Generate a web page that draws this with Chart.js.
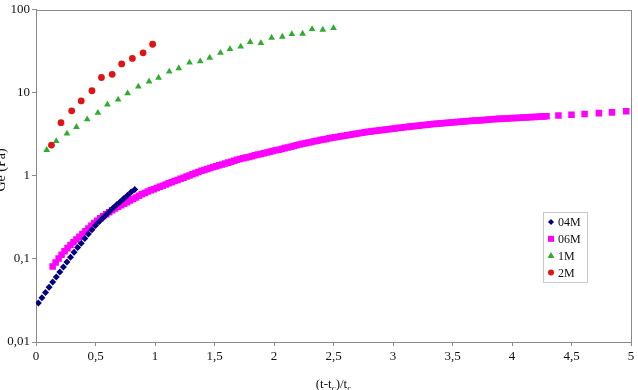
<!DOCTYPE html>
<html>
<head>
<meta charset="utf-8">
<script src="https://cdn.jsdelivr.net/npm/chart.js@4.4.1/dist/chart.umd.min.js"></script>
<style>
  html, body { margin: 0; padding: 0; background: #fff; }
  #wrap { width: 638px; height: 390px; }
</style>
</head>
<body>
<div id="wrap"><canvas id="chart" width="638" height="390"></canvas></div>
<script>
// --- DATA ---
const seriesNames = ["04M", "06M", "1M", "2M"];

const x04M = [0.02, 0.05, 0.08, 0.11, 0.14, 0.17, 0.20, 0.23, 0.26, 0.29, 0.32, 0.35, 0.38, 0.41,
              0.44, 0.47, 0.50, 0.53, 0.56, 0.59, 0.62, 0.65, 0.68, 0.71, 0.74, 0.77, 0.80, 0.83];
const y04M = [0.0295, 0.0341, 0.0394, 0.0456, 0.0527, 0.0608, 0.0698, 0.0800, 0.0916, 0.105, 0.120, 0.137, 0.155, 0.176,
              0.200, 0.224, 0.252, 0.280, 0.309, 0.340, 0.375, 0.413, 0.451, 0.492, 0.537, 0.586, 0.638, 0.687];

const x06M = [0.14, 0.165, 0.19, 0.215, 0.24, 0.265, 0.29, 0.315, 0.34, 0.365, 0.39, 0.415, 0.44, 0.465, 0.49, 0.515,
              0.54, 0.565, 0.59, 0.615, 0.64, 0.665, 0.69, 0.715, 0.74, 0.765, 0.79, 0.815, 0.84, 0.865, 0.89, 0.915,
              0.94, 0.965, 0.99, 1.015, 1.04, 1.065, 1.09, 1.115, 1.14, 1.165, 1.19, 1.215, 1.24, 1.265, 1.29, 1.315,
              1.34, 1.365, 1.39, 1.415, 1.44, 1.465, 1.49, 1.515, 1.54, 1.565, 1.59, 1.615, 1.64, 1.665, 1.69, 1.715,
              1.74, 1.765, 1.79, 1.815, 1.84, 1.865, 1.89, 1.915, 1.94, 1.965, 1.99, 2.015, 2.04, 2.065, 2.09, 2.115,
              2.14, 2.165, 2.19, 2.215, 2.24, 2.265, 2.29, 2.315, 2.34, 2.365, 2.39, 2.415, 2.44, 2.465, 2.49, 2.515,
              2.54, 2.565, 2.59, 2.615, 2.64, 2.665, 2.69, 2.715, 2.74, 2.765, 2.79, 2.815, 2.84, 2.865, 2.89, 2.915,
              2.94, 2.965, 2.99, 3.015, 3.04, 3.065, 3.09, 3.115, 3.14, 3.165, 3.19, 3.215, 3.24, 3.265, 3.29, 3.315,
              3.34, 3.365, 3.39, 3.415, 3.44, 3.465, 3.49, 3.515, 3.54, 3.565, 3.59, 3.615, 3.64, 3.665, 3.69, 3.715,
              3.74, 3.765, 3.79, 3.815, 3.84, 3.865, 3.89, 3.915, 3.94, 3.965, 3.99, 4.015, 4.04, 4.065, 4.09, 4.115,
              4.14, 4.165, 4.19, 4.215, 4.24, 4.265, 4.29,
              4.39, 4.50, 4.61, 4.73, 4.84, 4.96];
const y06M = [0.0813, 0.0905, 0.101, 0.112, 0.124, 0.135, 0.147, 0.159, 0.171, 0.185, 0.200, 0.216, 0.233, 0.251, 0.270, 0.289,
              0.308, 0.326, 0.345, 0.366, 0.387, 0.406, 0.425, 0.443, 0.462, 0.483, 0.505, 0.527, 0.550, 0.575, 0.600, 0.624,
              0.649, 0.670, 0.692, 0.715, 0.738, 0.762, 0.787, 0.813, 0.839, 0.867, 0.895, 0.924, 0.953, 0.982, 1.01, 1.045,
              1.08, 1.115, 1.15, 1.18, 1.21, 1.245, 1.28, 1.31, 1.34, 1.375, 1.41, 1.445, 1.48, 1.52, 1.56, 1.595,
              1.63, 1.66, 1.69, 1.73, 1.77, 1.805, 1.84, 1.875, 1.91, 1.955, 2.00, 2.035, 2.07, 2.115, 2.16, 2.205,
              2.25, 2.295, 2.34, 2.39, 2.44, 2.48, 2.52, 2.565, 2.61, 2.655, 2.70, 2.745, 2.79, 2.835, 2.88, 2.92,
              2.96, 3.005, 3.05, 3.09, 3.13, 3.17, 3.21, 3.255, 3.30, 3.345, 3.39, 3.43, 3.47, 3.505, 3.54, 3.575,
              3.61, 3.65, 3.69, 3.73, 3.77, 3.81, 3.85, 3.885, 3.92, 3.955, 3.99, 4.025, 4.06, 4.10, 4.14, 4.18,
              4.22, 4.25, 4.28, 4.31, 4.34, 4.37, 4.40, 4.43, 4.46, 4.49, 4.52, 4.545, 4.57, 4.60, 4.63, 4.66,
              4.69, 4.72, 4.75, 4.78, 4.81, 4.835, 4.86, 4.88, 4.90, 4.92, 4.94, 4.965, 4.99, 5.015, 5.04, 5.06,
              5.08, 5.105, 5.13, 5.155, 5.18, 5.20, 5.22,
              5.35, 5.46, 5.56, 5.70, 5.82, 6.00];

const x1M = [0.09, 0.17, 0.26, 0.34, 0.43, 0.52, 0.60, 0.69, 0.77, 0.86, 0.95, 1.03, 1.12, 1.20, 1.29,
             1.38, 1.46, 1.55, 1.63, 1.72, 1.80, 1.89, 1.98, 2.07, 2.15, 2.24, 2.32, 2.41, 2.50];
const y1M = [2.05, 2.62, 3.23, 3.88, 4.80, 5.75, 7.24, 8.30, 9.86, 11.9, 13.7, 15.2, 18.0, 19.8, 23.1,
             23.9, 26.5, 30.3, 33.6, 36.0, 41.0, 39.9, 46.1, 47.4, 51.0, 51.5, 58.6, 57.5, 60.3];

const x2M = [0.13, 0.21, 0.30, 0.38, 0.47, 0.55, 0.64, 0.72, 0.81, 0.90, 0.98];
const y2M = [2.35, 4.37, 6.07, 7.99, 10.6, 15.3, 16.7, 22.3, 26.0, 30.3, 38.5];

const xTickValues = [0, 0.5, 1, 1.5, 2, 2.5, 3, 3.5, 4, 4.5, 5];
const xTickLabels = ["0", "0,5", "1", "1,5", "2", "2,5", "3", "3,5", "4", "4,5", "5"];
const yTickValues = [0.01, 0.1, 1, 10, 100];
const yTickLabels = ["0,01", "0,1", "1", "10", "100"];

// --- STYLE ---
const serif = "'Liberation Serif', 'Times New Roman', serif";
const colors = ["#000080", "#ff00ff", "#2fad2f", "#e01414"];
const styles = ["rectRot", "rect", "triangle", "circle"];
const radii = [3.5, 4.6, 3.9, 3.4];
const axisGrey = "#8a8a8a";

function toPoints(xs, ys) {
    return xs.map((x, i) => ({ x: x, y: ys[i] }));
}

const seriesData = [toPoints(x04M, y04M), toPoints(x06M, y06M), toPoints(x1M, y1M), toPoints(x2M, y2M)];

// frame round the plot + axis titles
const framePlugin = {
    id: 'frame',
    beforeDatasetsDraw(chart) {
        const { ctx, chartArea: a } = chart;
        ctx.save();
        ctx.strokeStyle = axisGrey;
        ctx.lineWidth = 1;
        ctx.strokeRect(Math.round(a.left) + 0.5, Math.round(a.top) + 0.5,
                       Math.round(a.right - a.left), Math.round(a.bottom - a.top));
        ctx.restore();
    },
    afterDraw(chart) {
        const { ctx, chartArea: a } = chart;
        ctx.save();
        ctx.fillStyle = "#111";
        // y title (cut off at the left edge like the original)
        ctx.font = "14px " + serif;
        ctx.translate(5, 170);
        ctx.rotate(-Math.PI / 2);
        ctx.textAlign = "center";
        ctx.textBaseline = "alphabetic";
        ctx.fillText("Ge (Pa)", 0, 0);
        ctx.restore();

        // x title with subscripts: (t-tc)/tc
        ctx.save();
        ctx.fillStyle = "#111";
        const parts = [["(t-t", false], ["c", true], [")/t", false], ["c", true]];
        const big = "13px " + serif, small = "9px " + serif;
        let w = 0;
        parts.forEach(p => { ctx.font = p[1] ? small : big; w += ctx.measureText(p[0]).width; });
        let x = (a.left + a.right) / 2 - w / 2;
        const base = 388;
        ctx.textBaseline = "alphabetic";
        parts.forEach(p => {
            ctx.font = p[1] ? small : big;
            ctx.fillText(p[0], x, p[1] ? base + 3 : base);
            x += ctx.measureText(p[0]).width;
        });
        ctx.restore();
    }
};

// legend box inside the plot
const boxLegend = {
    id: 'boxLegend',
    afterDraw(chart) {
        const ctx = chart.ctx;
        const a = chart.chartArea;
        const left = a.right - 88, top = 212, w = 44, h = 70;
        ctx.save();
        ctx.fillStyle = "#fff";
        ctx.fillRect(left, top, w, h);
        ctx.strokeStyle = "#c8c8c8";
        ctx.lineWidth = 1;
        ctx.strokeRect(left + 0.5, top + 0.5, w, h);
        ctx.font = "12px " + serif;
        ctx.textBaseline = "middle";
        seriesNames.forEach((name, i) => {
            const cy = top + 10 + i * 16.8;
            const cx = left + 8;
            ctx.fillStyle = colors[i];
            ctx.beginPath();
            if (i === 0) {
                ctx.moveTo(cx, cy - 3); ctx.lineTo(cx + 3, cy); ctx.lineTo(cx, cy + 3); ctx.lineTo(cx - 3, cy);
            } else if (i === 1) {
                ctx.rect(cx - 3, cy - 3, 6, 6);
            } else if (i === 2) {
                ctx.moveTo(cx, cy - 3.5); ctx.lineTo(cx + 3.5, cy + 2.5); ctx.lineTo(cx - 3.5, cy + 2.5);
            } else {
                ctx.arc(cx, cy, 3, 0, Math.PI * 2);
            }
            ctx.closePath();
            ctx.fill();
            ctx.fillStyle = "#111";
            ctx.fillText(name, cx + 7, cy + 1);
        });
        ctx.restore();
    }
};

new Chart(document.getElementById("chart"), {
    type: 'scatter',
    data: {
        datasets: seriesNames.map((name, i) => ({
            label: name,
            data: seriesData[i],
            pointStyle: styles[i],
            pointRadius: radii[i],
            pointBackgroundColor: colors[i],
            pointBorderColor: colors[i],
            pointBorderWidth: 0,
            showLine: false
        }))
    },
    options: {
        responsive: false,
        animation: false,
        layout: { padding: { top: 6, right: 7, left: 0, bottom: 0 } },
        plugins: {
            legend: { display: false },
            tooltip: { enabled: false }
        },
        scales: {
            x: {
                type: 'linear',
                min: 0,
                max: 5,
                afterBuildTicks: s => { s.ticks = xTickValues.map(v => ({ value: v })); },
                afterFit: s => { s.height = 48; },
                ticks: {
                    callback: (v, i) => xTickLabels[i],
                    font: { family: serif, size: 13 },
                    color: "#111",
                    padding: 3,
                    maxRotation: 0,
                    autoSkip: false
                },
                grid: { drawOnChartArea: false, tickLength: 4, color: axisGrey },
                border: { color: axisGrey }
            },
            y: {
                type: 'logarithmic',
                min: 0.01,
                max: 100,
                afterBuildTicks: s => { s.ticks = yTickValues.map(v => ({ value: v })); },
                afterFit: s => { s.width = 36; },
                ticks: {
                    callback: (v, i) => yTickLabels[i],
                    font: { family: serif, size: 13 },
                    color: "#111",
                    padding: 2,
                    autoSkip: false
                },
                grid: { drawOnChartArea: false, tickLength: 4, color: axisGrey },
                border: { color: axisGrey }
            }
        }
    },
    plugins: [framePlugin, boxLegend]
});
</script>
</body>
</html>
